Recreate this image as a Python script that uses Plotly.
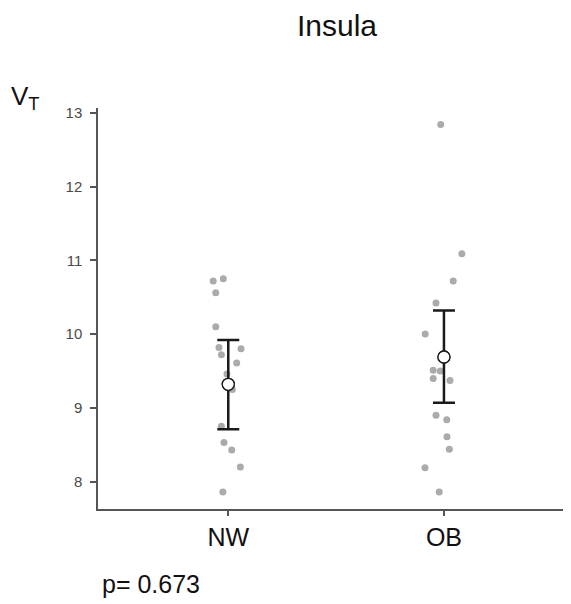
import plotly.graph_objects as go

categories = ["NW", "OB"]
nw_values = [10.72, 10.75, 10.56, 10.10, 9.82, 9.80, 9.72, 9.61, 9.46, 9.25, 8.75, 8.53, 8.43, 8.20, 7.86]
nw_jitter = [-0.070, -0.023, -0.058, -0.058, -0.043, 0.059, -0.032, 0.039, -0.006, 0.019, -0.032, -0.020, 0.016, 0.056, -0.025]
ob_values = [12.84, 11.09, 10.72, 10.42, 10.00, 9.51, 9.50, 9.40, 9.37, 8.90, 8.84, 8.61, 8.44, 8.19, 7.86]
ob_jitter = [-0.015, 0.083, 0.043, -0.037, -0.087, -0.050, -0.017, -0.050, 0.028, -0.037, 0.013, 0.014, 0.025, -0.088, -0.022]
means = [9.32, 9.69]
upper = [9.92, 10.32]
lower = [8.71, 9.07]
y_ticks = [8, 9, 10, 11, 12, 13]
title_text = "Insula"
y_label = "V<sub>T</sub>"
p_text = "p= 0.673"

FONT = "Liberation Sans, Arial, Helvetica, sans-serif"

# The page body has an 8px default margin, so the figure is sized to fit inside it.
OFF = 8
W, H = 571 - OFF, 604 - OFF
l, r, t, b = 98 - OFF, 0, 108 - OFF, 95

fig = go.Figure()
groups = [(nw_values, nw_jitter), (ob_values, ob_jitter)]
for i, (vals, jit) in enumerate(groups):
    fig.add_trace(go.Scatter(
        x=[i + 1 + j for j in jit], y=vals, mode="markers",
        marker=dict(color="#ababab", size=7, line=dict(width=0)),
        showlegend=False, hoverinfo="y"))

xs = [i + 1 for i in range(len(categories))]
fig.add_trace(go.Scatter(
    x=xs, y=means, mode="markers",
    marker=dict(color="white", size=12, line=dict(color="#1a1a1a", width=1.3)),
    error_y=dict(type="data", symmetric=False,
                 array=[u - m for u, m in zip(upper, means)],
                 arrayminus=[m - lo for m, lo in zip(means, lower)],
                 color="#1a1a1a", thickness=2.5, width=11),
    showlegend=False))
fig.add_trace(go.Scatter(
    x=xs, y=means, mode="markers",
    marker=dict(color="white", size=12, line=dict(color="#1a1a1a", width=1.3)),
    showlegend=False, hoverinfo="skip"))

pw, ph = W - l - r, H - t - b


def ann(text, px, py, size, xanchor="center", color="#111111"):
    # px, py are positions in the photographed page's pixels
    return dict(text=text, x=(px - OFF - l) / pw, y=1 - (py - OFF - t) / ph,
                xref="paper", yref="paper", showarrow=False,
                xanchor=xanchor, yanchor="middle",
                font=dict(size=size, color=color, family=FONT))


fig.update_layout(
    width=W, height=H,
    margin=dict(l=l, r=r, t=t, b=b),
    paper_bgcolor="white", plot_bgcolor="white",
    font=dict(family=FONT),
    xaxis=dict(range=[0.396, 2.589], tickvals=xs, ticktext=categories,
               showgrid=False, zeroline=False, showline=True,
               linecolor="#555555", linewidth=1.5,
               ticks="outside", ticklen=5, tickcolor="#555555", tickwidth=1.5,
               tickfont=dict(size=25, color="#111111", family=FONT)),
    yaxis=dict(range=[7.63, 13.064], tickvals=y_ticks,
               showgrid=False, zeroline=False, showline=True,
               linecolor="#555555", linewidth=1.5,
               ticks="outside", ticklen=6, tickcolor="#555555", tickwidth=1.5,
               ticklabelstandoff=5,
               tickfont=dict(size=15, color="#4a4a4a", family=FONT)),
    annotations=[
        ann(title_text, 337, 25, 30),
        ann(y_label, 25, 97, 26),
        ann(p_text, 100, 584, 25, xanchor="left"),
    ],
)

fig.write_html("out.html")
